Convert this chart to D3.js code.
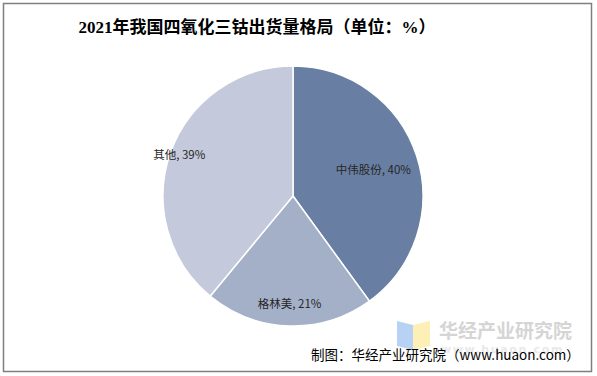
<!DOCTYPE html>
<html>
<head>
<meta charset="utf-8">
<script src="https://cdn.jsdelivr.net/npm/d3@7"></script>
<style>
  body { margin: 0; background: #fff; }
</style>
</head>
<body>
<div id="chart"></div>
<script>
// data
var categories = ["中伟股份", "格林美", "其他"];
var shares = [40, 21, 39];
var colours = ["#687fa3", "#a4b0c8", "#c4cadb"];
// how far out each label sits, as a share of the radius
var labelRadius = [0.65, 0.83, 0.93];

var width = 597, height = 376;
var cx = 293, cy = 196, radius = 130;

var svg = d3.select("#chart")
    .append("svg")
    .attr("width", width)
    .attr("height", height);

// frame
svg.append("rect")
    .attr("x", 3.5).attr("y", 3.5)
    .attr("width", 588).attr("height", 368)
    .attr("fill", "#fff")
    .attr("stroke", "#7f7f7f")
    .attr("stroke-width", 1.5);

// title
svg.append("text")
    .attr("x", 257)
    .attr("y", 33)
    .attr("text-anchor", "middle")
    .style("font-family", "'Liberation Serif', 'Noto Sans CJK SC'")
    .style("font-weight", "bold")
    .style("font-size", "17px")
    .attr("fill", "#000")
    .text("2021年我国四氧化三钴出货量格局（单位：%）");

var pie = d3.pie().sort(null).value(function (d) { return d; });
var arcs = pie(shares);

var arc = d3.arc().innerRadius(0).outerRadius(radius);

var g = svg.append("g")
    .attr("transform", "translate(" + cx + "," + cy + ")");

g.selectAll("path")
    .data(arcs)
    .enter()
    .append("path")
    .attr("d", arc)
    .attr("fill", function (d, i) { return colours[i]; })
    .attr("stroke", "#fff")
    .attr("stroke-width", 1.5);

// labels
g.selectAll("text.lbl")
    .data(arcs)
    .enter()
    .append("text")
    .attr("class", "lbl")
    .attr("transform", function (d, i) {
        var r = radius * labelRadius[i];
        var c = d3.arc().innerRadius(r).outerRadius(r).centroid(d);
        return "translate(" + c[0] + "," + c[1] + ")";
    })
    .attr("text-anchor", "middle")
    .attr("dy", "0.35em")
    .style("font-family", "'Noto Sans CJK SC'")
    .style("font-size", "11.5px")
    .attr("fill", "#262626")
    .text(function (d, i) { return categories[i] + ", " + shares[i] + "%"; });

// watermark logo
var wm = svg.append("g").attr("opacity", 0.75);
wm.append("path")
    .attr("d", "M397,321 L413,325 L413,350 L397,346 Z")
    .attr("fill", "#9fc3f2");
wm.append("path")
    .attr("d", "M413,325 L430,321 L430,346 L413,350 Z")
    .attr("fill", "#fbeba0");
wm.append("text")
    .attr("x", 439).attr("y", 338)
    .style("font-family", "'Noto Sans CJK SC'")
    .style("font-weight", "bold")
    .style("font-size", "19px")
    .attr("fill", "#c8c8c8")
    .text("华经产业研究院");
wm.append("text")
    .attr("x", 441).attr("y", 353)
    .style("font-family", "'DejaVu Sans'")
    .style("font-weight", "bold")
    .style("font-size", "11px")
    .style("letter-spacing", "1.6px")
    .attr("fill", "#e2e2e2")
    .text("www.huaon.com");

// source
svg.append("text")
    .attr("x", 311)
    .attr("y", 360)
    .style("font-family", "'Noto Sans CJK SC'")
    .style("font-size", "13.5px")
    .attr("fill", "#000")
    .text("制图：华经产业研究院（www.huaon.com）");
</script>
</body>
</html>
